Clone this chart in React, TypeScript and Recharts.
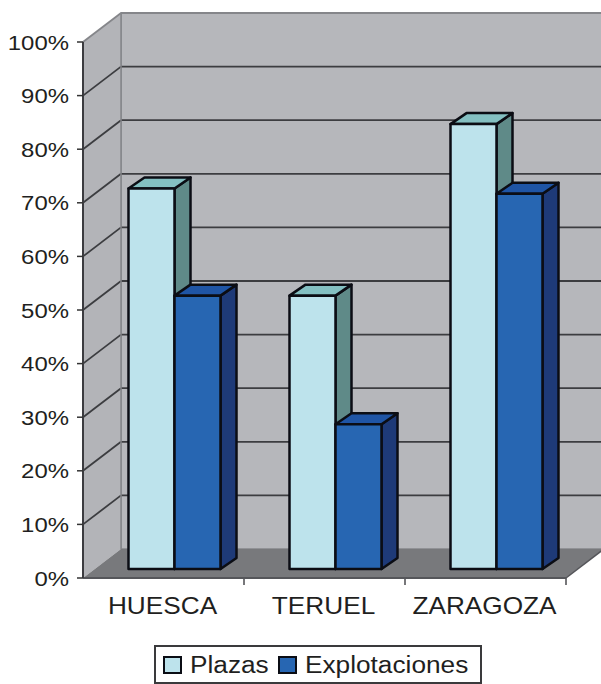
import { BarChart, Bar, XAxis, YAxis, Legend, ReferenceArea } from "recharts";

const categories = ["HUESCA", "TERUEL", "ZARAGOZA"];
const plazas = [71, 51, 83];
const explotaciones = [51, 27, 70];
const yTicks = [0, 10, 20, 30, 40, 50, 60, 70, 80, 90, 100];

const data = categories.map((name, i) => ({
  name,
  Plazas: plazas[i],
  Explotaciones: explotaciones[i],
}));

const FONT = "'Liberation Sans', Arial, sans-serif";
const TEXT = "#1f1f21";
const STRETCH = 1.14;
// depth of the fake 3d box
const WALL_DX = 38;
const WALL_DY = -29;
const BAR_SHIFT_X = 11;
const BAR_SHIFT_Y = -9;
const BAR_DX = 16;
const BAR_DY = -11;
const EDGE = "#0b0d14";

function Walls({ x, y, width, height }: any) {
  const bottom = y + height;
  const right = x + width;
  const band = width / categories.length;
  return (
    <g>
      <rect x={x + WALL_DX} y={y + WALL_DY} width={width} height={height} fill="#b6b7bb" stroke="#85868a" strokeWidth={1.5} />
      <polygon
        points={`${x},${y} ${x + WALL_DX},${y + WALL_DY} ${x + WALL_DX},${bottom + WALL_DY} ${x},${bottom}`}
        fill="#b3b4b8"
      />
      <polygon
        points={`${x},${bottom} ${x + WALL_DX},${bottom + WALL_DY} ${right + WALL_DX},${bottom + WALL_DY} ${right},${bottom}`}
        fill="#78797c"
      />
      {yTicks.map((t) => {
        const ty = bottom - (t / 100) * height;
        if (t === 0) return null;
        const color = t === 100 ? "#85868a" : "#3c3d40";
        return (
          <g key={t} stroke={color} strokeWidth={1.8}>
            <line x1={x} y1={ty} x2={x + WALL_DX} y2={ty + WALL_DY} />
            <line x1={x + WALL_DX} y1={ty + WALL_DY} x2={right + WALL_DX} y2={ty + WALL_DY} />
          </g>
        );
      })}
      <line x1={x + WALL_DX} y1={y + WALL_DY} x2={x + WALL_DX} y2={bottom + WALL_DY} stroke="#85868a" strokeWidth={1.5} />
      <line x1={right} y1={bottom} x2={right + WALL_DX} y2={bottom + WALL_DY} stroke="#55565a" strokeWidth={1.5} />
      {categories.map((_, i) => (
        <line
          key={i}
          x1={x + band * (i + 1)}
          x2={x + band * (i + 1)}
          y1={bottom}
          y2={bottom + 7}
          stroke="#4a4a4e"
          strokeWidth={1.5}
        />
      ))}
    </g>
  );
}

function boxShape(front: string, top: string, side: string) {
  return function Box({ x, y, width, height }: any) {
    const l = x + BAR_SHIFT_X;
    const t = y + BAR_SHIFT_Y;
    const r = l + width;
    const b = t + height;
    return (
      <g stroke={EDGE} strokeWidth={2.5} strokeLinejoin="round">
        <polygon
          points={`${r},${t} ${r + BAR_DX},${t + BAR_DY} ${r + BAR_DX},${b + BAR_DY} ${r},${b}`}
          fill={side}
        />
        <polygon
          points={`${l},${t} ${l + BAR_DX},${t + BAR_DY} ${r + BAR_DX},${t + BAR_DY} ${r},${t}`}
          fill={top}
        />
        <rect x={l} y={t} width={width} height={height} fill={front} />
      </g>
    );
  };
}

function YTick({ x, y, payload }: any) {
  return (
    <text
      transform={`translate(${x - 6},${y + 7.5}) scale(${STRETCH},1)`}
      textAnchor="end"
      fontFamily={FONT}
      fontSize={21}
      fill={TEXT}
    >
      {payload.value}%
    </text>
  );
}

function XTick({ x, y, payload }: any) {
  return (
    <text
      transform={`translate(${x - 1},${y + 28}) scale(${STRETCH},1)`}
      textAnchor="middle"
      fontFamily={FONT}
      fontSize={23}
      fill={TEXT}
    >
      {payload.value}
    </text>
  );
}

function LegendBox({ payload }: any) {
  return (
    <div
      style={{
        boxSizing: "border-box",
        width: 328,
        height: 39,
        border: "2px solid #3a3a3c",
        background: "#fff",
        fontFamily: FONT,
        fontSize: 23,
        color: TEXT,
        position: "relative",
      }}
    >
      {(payload || []).map((p: any) => (
        <div
          key={p.value}
          style={{ position: "absolute", left: p.value === "Plazas" ? 7 : 122, top: 6, display: "flex", alignItems: "center" }}
        >
          <span
            style={{
              display: "inline-block",
              boxSizing: "border-box",
              width: 19,
              height: 18,
              background: p.color,
              border: `2px solid ${EDGE}`,
              marginRight: 8,
            }}
          />
          <span style={{ display: "inline-block", transform: `scaleX(${STRETCH})`, transformOrigin: "left center", lineHeight: "24px" }}>
            {p.value}
          </span>
        </div>
      ))}
    </div>
  );
}

export default function App() {
  return (
    <div style={{ position: "absolute", left: 0, top: 0, width: 601, height: 684, background: "#fff", overflow: "hidden" }}>
      <BarChart
        width={601}
        height={684}
        data={data}
        margin={{ top: 42, right: 35, bottom: 0, left: 0 }}
        barGap={0}
        barCategoryGap={34.5}
        style={{ overflow: "hidden" }}
      >
        <ReferenceArea y1={0} y2={100} shape={Walls} ifOverflow="visible" />
        <XAxis
          dataKey="name"
          height={67}
          tick={<XTick />}
          tickLine={false}
          axisLine={{ stroke: "#55565a", strokeWidth: 2 }}
          interval={0}
        />
        <YAxis
          domain={[0, 100]}
          ticks={yTicks}
          width={83}
          tick={<YTick />}
          tickLine={{ stroke: "#333", strokeWidth: 1.5 }}
          axisLine={{ stroke: "#3c3c40", strokeWidth: 2 }}
          interval={0}
        />
        <Bar dataKey="Plazas" fill="#bde3ec" shape={boxShape("#bde3ec", "#84c0c2", "#5f8a88")} isAnimationActive={false} />
        <Bar dataKey="Explotaciones" fill="#2766b2" shape={boxShape("#2766b2", "#1f55a5", "#1e3a78")} isAnimationActive={false} />
        <Legend
          content={<LegendBox />}
          itemSorter={null}
          wrapperStyle={{ position: "absolute", left: 154, top: 645, width: 328, height: 39, bottom: "auto" }}
        />
      </BarChart>
    </div>
  );
}
